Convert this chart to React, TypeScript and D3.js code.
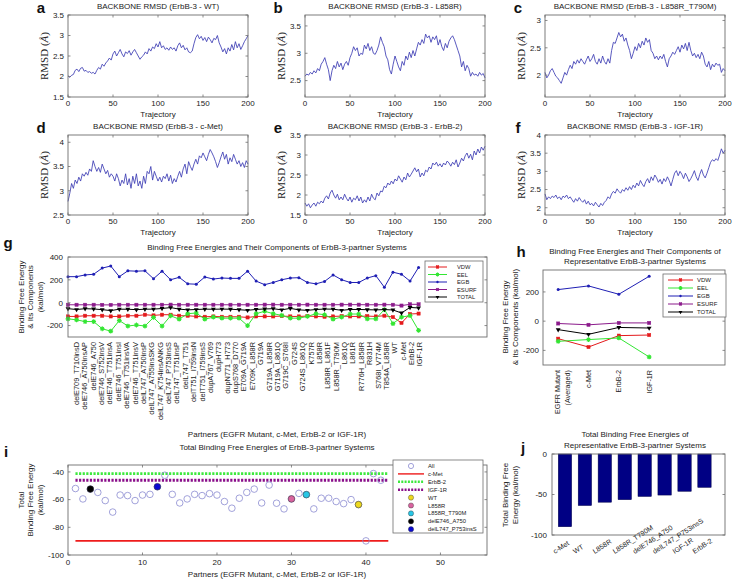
import React from 'react';
import * as d3 from 'd3';

const SANS = "'Liberation Sans', Arial, Helvetica, sans-serif";
const SERIF = "'Liberation Serif', 'Times New Roman', serif";

// ---------- RMSD trajectories (trajectory 0..200, every 2 frames) ----------
const rmsdWT = [
  2.02, 1.98, 2.03, 2.05, 2.15, 2.18, 2.12, 2.2, 2.22, 2.13,
  2.15, 2.1, 2.12, 2.08, 2.1, 2.06, 2.15, 2.22, 2.18, 2.3,
  2.25, 2.33, 2.38, 2.45, 2.4, 2.55, 2.62, 2.5, 2.58, 2.66,
  2.55, 2.48, 2.6, 2.56, 2.63, 2.52, 2.6, 2.66, 2.58, 2.5,
  2.42, 2.48, 2.52, 2.6, 2.55, 2.68, 2.62, 2.72, 2.68, 2.8,
  2.72, 2.85, 2.7, 2.75, 2.66, 2.7, 2.64, 2.72, 2.66, 2.7,
  2.62, 2.75, 2.82, 2.7, 2.76, 2.65, 2.7, 2.6, 2.58, 2.62,
  2.8, 2.95, 3.02, 2.92, 2.98, 2.88, 2.95, 2.85, 2.96, 2.9,
  2.82, 2.93, 2.9, 3.0, 2.82, 2.72, 2.6, 2.68, 2.55, 2.7,
  2.62, 2.78, 2.65, 2.85, 2.7, 2.8, 2.66, 2.75, 2.85, 2.92,
  3.0,
];
const rmsdL858R = [
  2.58, 2.62, 2.6, 2.65, 2.62, 2.68, 2.64, 2.72, 2.68, 2.8,
  2.85, 2.92, 2.8, 2.7, 2.5, 2.68, 2.78, 2.72, 2.85, 2.75,
  2.82, 2.7, 2.8, 2.85, 2.78, 2.92, 3.0, 3.12, 3.05, 3.1,
  2.95, 3.0, 2.98, 3.15, 3.08, 3.18, 3.05, 3.12, 3.0, 2.98,
  3.05, 3.15, 3.3, 3.2, 3.12, 2.95, 2.88, 2.7, 2.62, 2.8,
  2.95, 2.85, 2.75, 2.68, 2.85, 2.78, 2.95, 2.88, 3.02, 2.92,
  3.05, 2.95, 3.08, 3.2, 3.15, 3.25, 3.18, 3.35, 3.28, 3.32,
  3.2, 3.3, 3.25, 3.32, 3.15, 3.25, 3.12, 3.05, 3.18, 3.1,
  3.22, 3.28, 3.32, 3.25, 3.15, 3.05, 2.95, 2.75, 2.85, 2.68,
  2.78, 2.72, 2.58, 2.65, 2.6, 2.62, 2.58, 2.65, 2.6, 2.63,
  2.55,
];
const rmsdT790M = [
  2.05, 1.95, 2.0, 2.08, 2.12, 2.05, 1.98, 1.95, 1.9, 1.85,
  1.95, 2.05, 2.0, 2.1, 2.18, 2.12, 2.25, 2.2, 2.28, 2.22,
  2.3, 2.25, 2.2, 2.28, 2.35, 2.25, 2.3, 2.38, 2.25, 2.2,
  2.3, 2.22, 2.35, 2.25, 2.2, 2.3, 2.22, 2.45, 2.6, 2.58,
  2.68, 2.78, 2.7, 2.75, 2.62, 2.68, 2.55, 2.45, 2.3, 2.4,
  2.52, 2.45, 2.58, 2.5, 2.62, 2.55, 2.68, 2.6, 2.65, 2.45,
  2.4, 2.3, 2.35, 2.28, 2.35, 2.3, 2.38, 2.25, 2.15, 2.3,
  2.35, 2.42, 2.38, 2.45, 2.52, 2.42, 2.55, 2.48, 2.58, 2.45,
  2.6, 2.45, 2.35, 2.4, 2.32, 2.38, 2.3, 2.42, 2.35, 2.2,
  2.15, 2.25, 2.1, 2.2, 2.15, 2.22, 2.18, 2.2, 2.05, 2.12,
  2.08,
];
const rmsdCMet = [
  2.78, 2.95, 3.15, 3.05, 3.22, 3.15, 3.28, 3.2, 3.35, 3.3,
  3.38, 3.32, 3.45, 3.4, 3.62, 3.5, 3.4, 3.48, 3.38, 3.55,
  3.45, 3.35, 3.42, 3.28, 3.35, 3.3, 3.2, 3.35, 3.25, 3.1,
  3.22, 3.15, 3.35, 3.12, 3.25, 3.05, 3.3, 3.15, 3.35, 3.1,
  3.2, 3.05, 3.3, 3.15, 3.4, 3.35, 3.5, 3.22, 3.4, 3.3,
  3.2, 3.28, 3.18, 3.3, 3.25, 3.35, 3.2, 3.32, 3.15, 3.25,
  3.18, 3.3, 3.4, 3.28, 3.45, 3.55, 3.35, 3.6, 3.5, 3.42,
  3.55, 3.65, 3.55, 3.72, 3.68, 3.78, 3.7, 3.62, 3.75, 3.85,
  3.78, 3.7, 3.6, 3.48, 3.58, 3.7, 3.8, 3.65, 3.75, 3.55,
  3.68, 3.6, 3.75, 3.65, 3.55, 3.62, 3.5, 3.58, 3.48, 3.62,
  3.55,
];
const rmsdErbB2 = [
  1.8, 1.72, 1.78, 1.68, 1.75, 1.8, 1.72, 1.82, 1.78, 1.85,
  1.8, 1.92, 1.98, 1.9, 2.05, 2.12, 2.0, 1.92, 2.02, 1.88,
  1.95, 1.88, 2.02, 1.92, 1.85, 1.95, 1.82, 1.92, 1.88, 1.98,
  1.85, 1.95, 1.8, 1.88, 1.82, 1.95, 1.85, 2.02, 1.92, 1.88,
  2.05, 1.98, 2.1, 2.08, 2.22, 2.18, 2.3, 2.25, 2.35, 2.28,
  2.4, 2.35, 2.48, 2.4, 2.32, 2.45, 2.38, 2.55, 2.45, 2.52,
  2.6, 2.68, 2.58, 2.65, 2.45, 2.55, 2.48, 2.62, 2.58, 2.7,
  2.65, 2.8, 2.75, 2.82, 2.72, 2.78, 2.7, 2.8, 2.75, 2.85,
  2.8, 2.72, 2.82, 2.76, 2.88, 2.7, 2.8, 2.92, 2.85, 2.98,
  3.05, 2.92, 3.02, 2.88, 3.1, 3.0, 3.15, 3.05, 3.2, 3.12,
  3.22,
];
const rmsdIGF1R = [
  2.38, 2.22, 2.3, 2.25, 2.32, 2.28, 2.35, 2.25, 2.3, 2.22,
  2.32, 2.28, 2.35, 2.25, 2.3, 2.22, 2.15, 2.25, 2.18, 2.28,
  2.2, 2.15, 2.22, 2.1, 2.18, 2.08, 2.12, 2.05, 2.15, 2.08,
  2.02, 2.12, 2.06, 2.15, 2.2, 2.3, 2.25, 2.38, 2.45, 2.4,
  2.52, 2.45, 2.4, 2.5, 2.45, 2.55, 2.48, 2.58, 2.5, 2.62,
  2.55, 2.68, 2.6, 2.75, 2.65, 2.58, 2.72, 2.8, 2.68, 2.85,
  2.75, 2.9, 2.82, 2.7, 2.78, 2.65, 2.8, 2.72, 2.85, 2.75,
  2.6, 2.78, 2.95, 3.02, 2.88, 3.0, 2.92, 2.8, 2.95, 2.85,
  2.72, 2.8, 2.9, 3.02, 2.85, 2.75, 2.92, 3.05, 2.9, 2.82,
  2.95, 3.1, 3.25, 3.32, 3.28, 3.35, 3.3, 3.45, 3.62, 3.5,
  3.58,
];

const trajTicks = [0, 50, 100, 150, 200];

// ---------- Binding free energies ----------
const partners = [
  'delE709_T710insD', 'delE746_A750insAP', 'delE746_A750', 'delE746_S752insV', 'delE746_T751insA',
  'delE746_T751insI', 'delE746_T751insVA', 'delE746_T751insV', 'delL747_A750insP', 'delL747_A755insSKG',
  'delL747_K754insANKG', 'delL747_P753insS', 'delL747_T751insP', 'delL747_T751', 'delT751_I759insN',
  'delT751_I759insS', 'dupA767_V769', 'dupH773', 'dupN771_H773', 'dupS768_D770',
  'E709A_G719A', 'E709K_L858R', 'G719A', 'G719A_L858R', 'G719A_L861Q',
  'G719C_S768I', 'G724S', 'G724S_L861Q', 'K757R', 'L858R',
  'L858R_L861F', 'L858R_T790M', 'L861Q', 'L861R', 'R776H_L858R',
  'R831H', 'S768I_V774M', 'T854A_L858R', 'WT', 'c-Met',
  'ErbB-2', 'IGF-1R',
];
const vdw = [
  -120, -120, -114, -114, -114, -120, -120, -114, -114, -105,
  -111, -105, -105, -114, -114, -120, -123, -120, -123, -123,
  -123, -129, -120, -120, -120, -117, -120, -120, -117, -120,
  -123, -120, -117, -120, -120, -117, -120, -114, -126, -177,
  -99, -95,
];
const eel = [
  -141, -150, -165, -165, -228, -249, -156, -204, -195, -204,
  -129, -204, -114, -144, -96, -90, -144, -126, -135, -135,
  -135, -201, -96, -75, -96, -111, -135, -135, -120, -96,
  -105, -144, -126, -99, -99, -141, -141, -60, -183, -126,
  -113, -242,
];
const egb = [
  228, 228, 243, 249, 303, 321, 228, 279, 276, 279,
  210, 276, 201, 222, 165, 162, 225, 207, 216, 213,
  213, 276, 189, 158, 177, 201, 216, 219, 177, 165,
  186, 243, 201, 177, 177, 216, 237, 135, 267, 249,
  189, 309,
];
const esurf = [
  -18, -18, -18, -18, -19, -19, -18, -18, -18, -18,
  -18, -18, -17, -18, -18, -18, -18, -18, -18, -18,
  -18, -18, -18, -17, -17, -18, -18, -18, -17, -18,
  -18, -18, -17, -17, -17, -18, -18, -17, -18, -25,
  -14, -14,
];
const total = [
  -52, -59.5, -52.4, -54.8, -60.7, -69, -56.7, -57.1, -60.7, -56.7,
  -56.2, -50.7, -42.4, -56.2, -62.4, -59.5, -56.2, -57.1, -55.7, -56.7,
  -61.4, -66.2, -59, -54.8, -52.4, -62.4, -49.5, -62.6, -66.7, -59.5,
  -55.5, -56.4, -66.7, -59, -59, -61.4, -62.9, -60, -63.6, -89.8,
  -41.2, -46,
];

const repCategories = [['EGFR Mutant', '(Averaged)'], ['c-Met'], ['ErbB-2'], ['IGF-1R']];
const repVdw = [-120, -177, -99, -95];
const repEel = [-138, -126, -115, -245];
const repEgb = [216, 241, 184, 307];
const repEsurf = [-16, -25, -12, -12];
const repTotal = [-58, -90, -43, -47];

const componentNames = ['VDW', 'EEL', 'EGB', 'ESURF', 'TOTAL'];
const componentColors = ['#e41a1c', '#33e633', '#1f1fb4', '#8b1a8b', '#000000'];
const componentMarkers = ['square', 'star', 'dot', 'square', 'tri'];

const highlightNames = ['WT', 'L858R', 'L858R_T790M', 'delE746_A750', 'delL747_P753insS'];
const highlightColors = ['#ecd820', '#d8639f', '#28c6e6', '#000000', '#0a0ad2'];
const refLineNames = ['c-Met', 'ErbB-2', 'IGF-1R'];
const refLineColors = ['#ee1c1c', '#3ee83e', '#8a0f8a'];

const barOrder = ['c-Met', 'WT', 'L858R', 'L858R_T790M', 'delE746_A750', 'delL747_P753insS', 'IGF-1R', 'ErbB-2'];

const FRAME = '#6e6e6e';
const TICK = 2.5;

function Box({ x0, x1, y0, y1, xTicks = [], yTicks = [], xs, ys }: any) {
  return (
    <g>
      <rect x={x0} y={y0} width={x1 - x0} height={y1 - y0} fill="none" stroke={FRAME} strokeWidth={0.9} />
      {xTicks.map((t: number) => (
        <g key={'xt' + t}>
          <line x1={xs(t)} x2={xs(t)} y1={y1} y2={y1 - TICK} stroke={FRAME} strokeWidth={0.8} />
          <line x1={xs(t)} x2={xs(t)} y1={y0} y2={y0 + TICK} stroke={FRAME} strokeWidth={0.8} />
        </g>
      ))}
      {yTicks.map((t: number) => (
        <g key={'yt' + t}>
          <line x1={x0} x2={x0 + TICK} y1={ys(t)} y2={ys(t)} stroke={FRAME} strokeWidth={0.8} />
          <line x1={x1} x2={x1 - TICK} y1={ys(t)} y2={ys(t)} stroke={FRAME} strokeWidth={0.8} />
        </g>
      ))}
    </g>
  );
}

function YTickLabels({ ticks, ys, x, size = 8 }: any) {
  return (
    <g>
      {ticks.map((t: number) => (
        <text key={t} x={x} y={ys(t)} dy="0.35em" textAnchor="end" fontSize={size} fill="#222">{String(t)}</text>
      ))}
    </g>
  );
}

function XTickLabels({ ticks, xs, y, size = 8 }: any) {
  return (
    <g>
      {ticks.map((t: number) => (
        <text key={t} x={xs(t)} y={y} textAnchor="middle" fontSize={size} fill="#222">{String(t)}</text>
      ))}
    </g>
  );
}

function VText({ x, y, lines, size = 8, gap = 9.5, family = SANS, children }: any) {
  if (children) {
    return (
      <text transform={`translate(${x},${y}) rotate(-90)`} textAnchor="middle" dominantBaseline="central" fontSize={size} fontFamily={family} fill="#222">{children}</text>
    );
  }
  return (
    <g>
      {lines.map((l: string, i: number) => (
        <text key={i} transform={`translate(${x + i * gap},${y}) rotate(-90)`} textAnchor="middle" dominantBaseline="central" fontSize={size} fontFamily={family} fill="#222">{l}</text>
      ))}
    </g>
  );
}

function Letter({ x, y, ch }: any) {
  return <text x={x} y={y} fontSize={15} fontWeight="bold" textAnchor="middle" fill="#111">{ch}</text>;
}

function Marker({ kind, x, y, color, s = 1 }: any) {
  if (kind === 'square') {
    const h = 1.6 * s;
    return <rect x={x - h} y={y - h} width={2 * h} height={2 * h} fill={color} stroke={color} strokeWidth={0.5} />;
  }
  if (kind === 'star') {
    const r = 2.4 * s;
    const p = d3.path();
    for (let k = 0; k < 4; k++) {
      const a = (k * Math.PI) / 4;
      p.moveTo(x - r * Math.cos(a), y - r * Math.sin(a));
      p.lineTo(x + r * Math.cos(a), y + r * Math.sin(a));
    }
    return (
      <g>
        <circle cx={x} cy={y} r={1.5 * s} fill={color} />
        <path d={p.toString()} stroke={color} strokeWidth={1.1} />
      </g>
    );
  }
  if (kind === 'dot') {
    return <circle cx={x} cy={y} r={1.5 * s} fill={color} />;
  }
  const sym = d3.symbol(d3.symbolTriangle, 10 * s * s)();
  return <path d={sym as string} transform={`translate(${x},${y}) rotate(180)`} fill={color} />;
}

function RmsdPanel({ data, left, top, bottom, yDomain, yTicks, title, letter }: any) {
  const right = left + 180;
  const x = d3.scaleLinear().domain([0, 200]).range([left, right]);
  const y = d3.scaleLinear().domain(yDomain).range([bottom, top]);
  const n = data.length;
  const line = d3.line<number>().x((_, i) => x((i * 200) / (n - 1))).y((d) => y(d));
  return (
    <g>
      <text x={left + 90} y={top - 6} textAnchor="middle" fontSize={8} fill="#222">{title}</text>
      <Letter x={left - 27} y={top - 2} ch={letter} />
      <path d={line(data) as string} fill="none" stroke="#3c3cb4" strokeWidth={0.85} />
      <Box x0={left} x1={right} y0={top} y1={bottom} xTicks={trajTicks} yTicks={yTicks} xs={x} ys={y} />
      <YTickLabels ticks={yTicks} ys={y} x={left - 4} />
      <XTickLabels ticks={trajTicks} xs={x} y={bottom + 9} />
      <text x={left + 90} y={bottom + 20} textAnchor="middle" fontSize={8} fill="#222">Trajectory</text>
      <VText x={left - 24} y={(top + bottom) / 2} size={11} family={SERIF}>
        RMSD (<tspan fontStyle="italic">Å</tspan>)
      </VText>
    </g>
  );
}

function PanelG() {
  const x0 = 68, x1 = 487, y0 = 257, y1 = 337;
  const xs = d3.scaleLinear().domain([1, 50]).range([x0, x1]);
  const xl = d3.scaleLinear().domain([0, 50]).range([x0, x1]);
  const ys = d3.scaleLinear().domain([-300, 400]).range([y1, y0]);
  const yTicks = [-200, 0, 200, 400];
  const series = [vdw, eel, egb, esurf, total];
  const line = d3.line<number>().x((_, i) => xs(i + 1)).y((d) => ys(d));
  const lx = 425, ly = 261, lw = 58, lh = 41;
  return (
    <g>
      <Letter x={8} y={248} ch="g" />
      <text x={277} y={250} textAnchor="middle" fontSize={8} fill="#222">Binding Free Energies and Their Components of ErbB-3-partner Systems</text>
      {series.map((vals, si) => (
        <g key={si}>
          <path d={line(vals) as string} fill="none" stroke={componentColors[si]} strokeWidth={1} />
          {vals.map((v, i) => (
            <Marker key={i} kind={componentMarkers[si]} x={xs(i + 1)} y={ys(v)} color={componentColors[si]} />
          ))}
        </g>
      ))}
      <Box x0={x0} x1={x1} y0={y0} y1={y1} yTicks={yTicks} ys={ys} />
      <YTickLabels ticks={yTicks} ys={ys} x={x0 - 5} />
      <VText x={21} y={297} lines={['Binding Free Energy', '& Its Components', '(kal/mol)']} gap={9.5} />
      {partners.map((p, i) => (
        <text key={p} transform={`translate(${xl(i + 1)},${y1 + 5}) rotate(-90)`} textAnchor="end" dominantBaseline="central" fontSize={7.4} fill="#222">{p}</text>
      ))}
      <text x={277} y={437} textAnchor="middle" fontSize={8} fill="#222">Partners (EGFR Mutant, c-Met, ErbB-2 or IGF-1R)</text>
      <rect x={lx} y={ly} width={lw} height={lh} fill="#fff" stroke={FRAME} strokeWidth={0.8} />
      {componentNames.map((nm, i) => {
        const yy = ly + 6 + i * 7.5;
        return (
          <g key={nm}>
            <line x1={lx + 3} x2={lx + 22} y1={yy} y2={yy} stroke={componentColors[i]} strokeWidth={1} />
            <Marker kind={componentMarkers[i]} x={lx + 12.5} y={yy} color={componentColors[i]} s={0.8} />
            <text x={lx + 32} y={yy} dy="0.35em" fontSize={5.8} fill="#222">{nm}</text>
          </g>
        );
      })}
    </g>
  );
}

function PanelH() {
  const x0 = 543, x1 = 725, y0 = 270, y1 = 365;
  const xs = d3.scaleLinear().domain([0.5, 6.5]).range([x0, x1]);
  const ys = d3.scaleLinear().domain([-300, 350]).range([y1, y0]);
  const yTicks = [-200, 0, 200];
  const series = [repVdw, repEel, repEgb, repEsurf, repTotal];
  const line = d3.line<number>().x((_, i) => xs(i + 1)).y((d) => ys(d));
  const lx = 663, ly = 274, lw = 63, lh = 43;
  return (
    <g>
      <Letter x={521} y={257} ch="h" />
      <text x={635} y={254} textAnchor="middle" fontSize={8} fill="#222">Binding Free Energies and Their Components of</text>
      <text x={635} y={264} textAnchor="middle" fontSize={8} fill="#222">Representative ErbB-3-partner Systems</text>
      {series.map((vals, si) => (
        <g key={si}>
          <path d={line(vals) as string} fill="none" stroke={componentColors[si]} strokeWidth={1} />
          {vals.map((v, i) => (
            <Marker key={i} kind={componentMarkers[si]} x={xs(i + 1)} y={ys(v)} color={componentColors[si]} />
          ))}
        </g>
      ))}
      <Box x0={x0} x1={x1} y0={y0} y1={y1} yTicks={yTicks} ys={ys} />
      <YTickLabels ticks={yTicks} ys={ys} x={x0 - 4} />
      <VText x={505} y={317} lines={['Binding Free Energy', '& Its Components (kal/mol)']} gap={10} />
      {repCategories.map((lines, i) => (
        <g key={i}>
          {lines.map((l, j) => (
            <text key={j} transform={`translate(${xs(i + 1) + (lines.length > 1 ? j * 10 - 1 : 0)},${y1 + 5}) rotate(-90)`} textAnchor="end" dominantBaseline="central" fontSize={7.2} fill="#222">{l}</text>
          ))}
        </g>
      ))}
      <rect x={lx} y={ly} width={lw} height={lh} fill="#fff" stroke={FRAME} strokeWidth={0.8} />
      {componentNames.map((nm, i) => {
        const yy = ly + 6 + i * 8;
        return (
          <g key={nm}>
            <line x1={lx + 5} x2={lx + 30} y1={yy} y2={yy} stroke={componentColors[i]} strokeWidth={1} />
            <Marker kind={componentMarkers[i]} x={lx + 17.5} y={yy} color={componentColors[i]} s={0.8} />
            <text x={lx + 34} y={yy} dy="0.35em" fontSize={6} fill="#222">{nm}</text>
          </g>
        );
      })}
    </g>
  );
}

function PanelI() {
  const x0 = 68, x1 = 487, y0 = 465, y1 = 555;
  const xs = d3.scaleLinear().domain([0, 56.25]).range([x0, x1]);
  const ys = d3.scaleLinear().domain([-100, -35]).range([y1, y0]);
  const yTicks = [-100, -80, -60, -40];
  const xTicks = [0, 10, 20, 30, 40, 50];
  const refVals = refLineNames.map((nm) => total[partners.indexOf(nm)]);
  const lineEnd = partners.length + 1;
  const lx = 393, ly = 460, lw = 90, lh = 73;
  const legendItems = [
    { label: 'All', type: 'open' },
    ...refLineNames.map((nm, i) => ({ label: nm, type: i === 0 ? 'solid' : 'dotted', color: refLineColors[i] })),
    ...highlightNames.map((nm, i) => ({ label: nm, type: 'fill', color: highlightColors[i] })),
  ];
  return (
    <g>
      <Letter x={6} y={457} ch="i" />
      <text x={277} y={450} textAnchor="middle" fontSize={8} fill="#222">Total Binding Free Energies of ErbB-3-partner Systems</text>
      {refVals.map((v, i) => (
        <line key={i} x1={xs(1)} x2={xs(lineEnd)} y1={ys(v)} y2={ys(v)} stroke={refLineColors[i]}
          strokeWidth={i === 0 ? 1.6 : 2.8} strokeDasharray={i === 0 ? undefined : '2.2 1.4'} />
      ))}
      {total.map((v, i) => (
        <circle key={i} cx={xs(i + 1)} cy={ys(v)} r={3.3} fill="none" stroke="#8a8ad0" strokeWidth={0.8} />
      ))}
      {highlightNames.map((nm, i) => {
        const idx = partners.indexOf(nm);
        return <circle key={nm} cx={xs(idx + 1)} cy={ys(total[idx])} r={3.3} fill={highlightColors[i]} stroke="#333" strokeWidth={0.5} />;
      })}
      <Box x0={x0} x1={x1} y0={y0} y1={y1} xTicks={xTicks} yTicks={yTicks} xs={xs} ys={ys} />
      <YTickLabels ticks={yTicks} ys={ys} x={x0 - 4} />
      <XTickLabels ticks={xTicks} xs={xs} y={y1 + 10} />
      <text x={277} y={577} textAnchor="middle" fontSize={8} fill="#222">Partners (EGFR Mutant, c-Met, ErbB-2 or IGF-1R)</text>
      <VText x={21} y={500} lines={['Total', 'Binding Free Energy', '(kal/mol)']} gap={9.5} />
      <rect x={lx} y={ly} width={lw} height={lh} fill="#fff" stroke={FRAME} strokeWidth={0.8} />
      {legendItems.map((it: any, i) => {
        const yy = ly + 6 + i * 7.9;
        const cx = lx + 18;
        let sym;
        if (it.type === 'open') sym = <circle cx={cx} cy={yy} r={2.6} fill="none" stroke="#8a8ad0" strokeWidth={0.8} />;
        else if (it.type === 'solid') sym = <line x1={lx + 5} x2={lx + 31} y1={yy} y2={yy} stroke={it.color} strokeWidth={1.4} />;
        else if (it.type === 'dotted') sym = <line x1={lx + 5} x2={lx + 31} y1={yy} y2={yy} stroke={it.color} strokeWidth={2.4} strokeDasharray="2 1.3" />;
        else sym = <circle cx={cx} cy={yy} r={2.6} fill={it.color} stroke="#333" strokeWidth={0.4} />;
        return (
          <g key={it.label}>
            {sym}
            <text x={lx + 35} y={yy} dy="0.35em" fontSize={5.8} fill="#222">{it.label}</text>
          </g>
        );
      })}
    </g>
  );
}

function PanelJ() {
  const x0 = 552, x1 = 725, y0 = 454, y1 = 535;
  const xs = d3.scaleLinear().domain([0.35, 9.03]).range([x0, x1]);
  const ys = d3.scaleLinear().domain([-100, 0]).range([y1, y0]);
  const yTicks = [-100, -50, 0];
  const values = barOrder.map((nm) => total[partners.indexOf(nm)]);
  const bw = (xs(2) - xs(1)) * 0.67;
  return (
    <g>
      <Letter x={523} y={453} ch="j" />
      <text x={635} y={437} textAnchor="middle" fontSize={8} fill="#222">Total Binding Free Energies of</text>
      <text x={635} y={448} textAnchor="middle" fontSize={8} fill="#222">Representative ErbB-3-partner Systems</text>
      {values.map((v, i) => (
        <rect key={i} x={xs(i + 1) - bw / 2} y={ys(0)} width={bw} height={ys(v) - ys(0)} fill="#000084" stroke="#00004a" strokeWidth={0.5} />
      ))}
      <Box x0={x0} x1={x1} y0={y0} y1={y1} yTicks={yTicks} ys={ys} />
      <YTickLabels ticks={yTicks} ys={ys} x={x0 - 5} />
      <VText x={505} y={495} lines={['Total Binding Free', 'Energy (kal/mol)']} gap={10} />
      {barOrder.map((nm, i) => (
        <text key={nm} transform={`translate(${xs(i + 1) - 10},${y1 + 19}) rotate(-33)`} textAnchor="start" fontSize={7} fill="#222">{nm}</text>
      ))}
    </g>
  );
}

const rmsdPanels = [
  { data: rmsdWT, left: 68, top: 15, bottom: 97, yDomain: [1.5, 3.5], yTicks: [1.5, 2, 2.5, 3, 3.5], title: 'BACKBONE RMSD (ErbB-3 - WT)', letter: 'a' },
  { data: rmsdL858R, left: 305, top: 15, bottom: 97, yDomain: [2.2, 3.7], yTicks: [2.5, 3, 3.5], title: 'BACKBONE RMSD (ErbB-3 - L858R)', letter: 'b' },
  { data: rmsdT790M, left: 545, top: 15, bottom: 97, yDomain: [1.6, 3.1], yTicks: [2, 2.5, 3], title: 'BACKBONE RMSD (ErbB-3 - L858R_T790M)', letter: 'c' },
  { data: rmsdCMet, left: 68, top: 135, bottom: 215, yDomain: [2.5, 4.15], yTicks: [2.5, 3, 3.5, 4], title: 'BACKBONE RMSD (ErbB-3 - c-Met)', letter: 'd' },
  { data: rmsdErbB2, left: 305, top: 135, bottom: 215, yDomain: [1.5, 3.5], yTicks: [1.5, 2, 2.5, 3, 3.5], title: 'BACKBONE RMSD (ErbB-3 - ErbB-2)', letter: 'e' },
  { data: rmsdIGF1R, left: 545, top: 135, bottom: 215, yDomain: [1.8, 4], yTicks: [2, 2.5, 3, 3.5, 4], title: 'BACKBONE RMSD (ErbB-3 - IGF-1R)', letter: 'f' },
];

export default function App() {
  return (
    <svg width={733} height={580} style={{ position: 'absolute', left: 0, top: 0, background: '#fff' }} fontFamily={SANS}>
      <rect width={733} height={580} fill="#fff" />
      {rmsdPanels.map((p) => (
        <RmsdPanel key={p.letter} {...p} />
      ))}
      <PanelG />
      <PanelH />
      <PanelI />
      <PanelJ />
    </svg>
  );
}
